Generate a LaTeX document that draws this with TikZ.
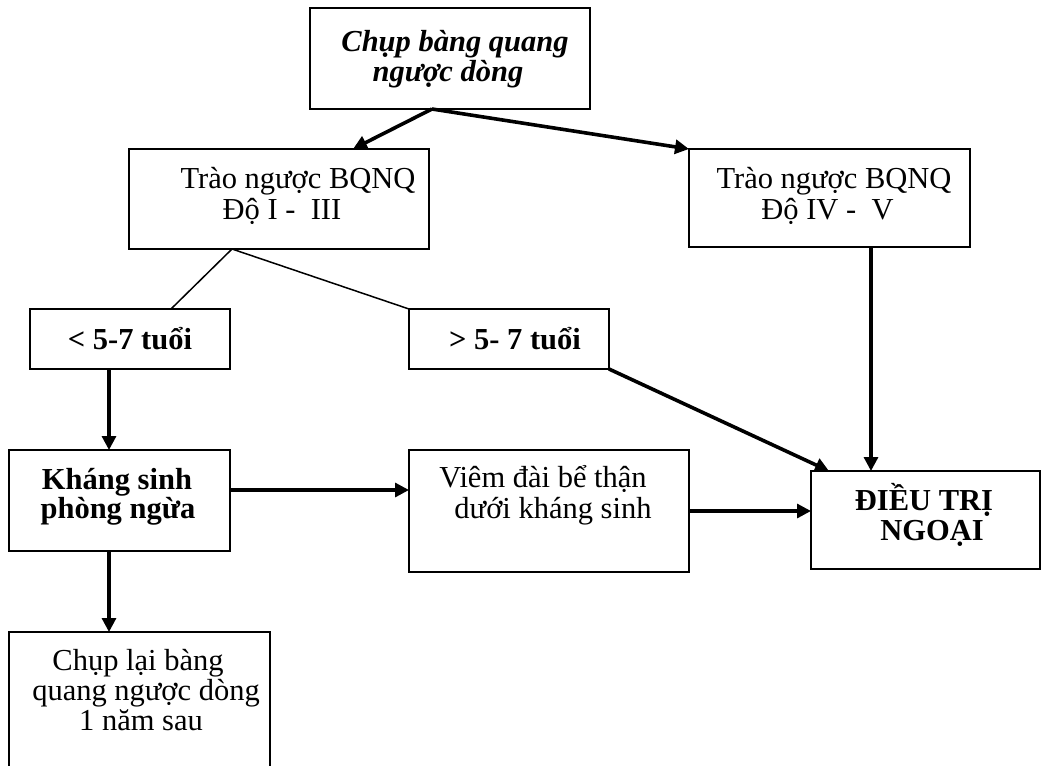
\documentclass[tikz,border=0pt]{standalone}
\usepackage{fontspec}
\setmainfont{Liberation Serif}
\usetikzlibrary{arrows.meta}
\begin{document}
\begin{tikzpicture}[x=1pt,y=-1pt,
  box/.style={draw, rectangle, line width=1.8pt, inner sep=0pt, outer sep=0pt},
  ln/.style={inner sep=0pt, anchor=base, font=\fontsize{30.5}{30}\selectfont},
  bln/.style={inner sep=0pt, anchor=base, font=\fontsize{30.5}{30}\selectfont\bfseries},
  link/.style={line width=1.5pt},
  arr/.style={line width=3.2pt, -{Triangle[length=14pt,width=14pt]}},
  heavy/.style={line width=3.6pt}
]
\fill[white] (0,0) rectangle (1042,766);
\useasboundingbox (0,0) rectangle (1042,766);
\clip (0,0) rectangle (1042,766);

% boxes
\node[box, minimum width=300pt, minimum height=100pt] (A) at (279,199) {};
\node[box, minimum width=280pt, minimum height=101pt] (top) at (450,58.5) {};
\node[box, minimum width=281pt, minimum height=98pt] (B) at (829.5,198) {};
\node[box, minimum width=200pt, minimum height=60pt] (lt) at (130,339) {};
\node[box, minimum width=200pt, minimum height=60pt] (gt) at (509,339) {};
\node[box, minimum width=221pt, minimum height=101pt] (ks) at (119.5,500.5) {};
\node[box, minimum width=280pt, minimum height=122pt] (vm) at (549,511) {};
\node[box, line width=2.4pt, minimum width=229pt, minimum height=98pt] (dt) at (925.5,520) {};
\node[box, minimum width=261pt, minimum height=156pt] (cl) at (139.5,710) {};

% texts
\node[bln, font=\fontsize{30.5}{30}\selectfont\bfseries\itshape] (top-1) at (455,51) {Chụp bàng quang};
\node[bln, font=\fontsize{30.5}{30}\selectfont\bfseries\itshape] (top-2) at (448,81) {ngược dòng};
\node[ln] (A-1) at (298,188) {Trào ngược BQNQ};
\node[ln] (A-2) at (282,219) {Độ I -\ \ III};
\node[ln] (B-1) at (834,188) {Trào ngược BQNQ};
\node[ln] (B-2) at (827.5,219) {Độ IV -\ \ V};
\node[bln] (lt-1) at (130,349) {< 5-7 tuổi};
\node[bln] (gt-1) at (515,349) {> 5- 7 tuổi};
\node[bln] (ks-1) at (117,489) {Kháng sinh};
\node[bln] (ks-2) at (118,518) {phòng ngừa};
\node[ln] (vm-1) at (543,487) {Viêm đài bể thận};
\node[ln] (vm-2) at (553,518) {dưới kháng sinh};
\node[bln] (dt-1) at (924,510) {ĐIỀU TRỊ};
\node[bln] (dt-2) at (932,540) {NGOẠI};
\node[ln] (cl-1) at (138,670) {Chụp lại bàng};
\node[ln] (cl-2) at (146,700) {quang ngược dòng};
\node[ln] (cl-3) at (141,730) {1 năm sau};

% connectors
\draw[arr, heavy] ([xshift=-18pt]top.south) -- ([xshift=74pt]A.north);
\draw[arr, heavy] ([xshift=-18pt]top.south) -- (B.north west);
\draw[link] ([xshift=-47pt]A.south) -- ([xshift=41pt]lt.north);
\draw[link] ([xshift=-47pt]A.south) -- (gt.north west);
\draw[arr, heavy] (gt.south east) -- ([xshift=18pt]dt.north west);
\draw[arr] ([xshift=41.5pt]B.south) -- ([xshift=41.5pt]B.south |- dt.north);
\draw[arr] ([xshift=-21pt]lt.south) -- ([xshift=-21pt]lt.south |- ks.north);
\draw[arr] ([yshift=10.5pt]ks.east) -- ([yshift=10.5pt]ks.east -| vm.west);
\draw[arr] (vm.east) -- (vm.east -| dt.west);
\draw[arr] ([xshift=-10.5pt]ks.south) -- ([xshift=-10.5pt]ks.south |- cl.north);
\end{tikzpicture}
\end{document}
